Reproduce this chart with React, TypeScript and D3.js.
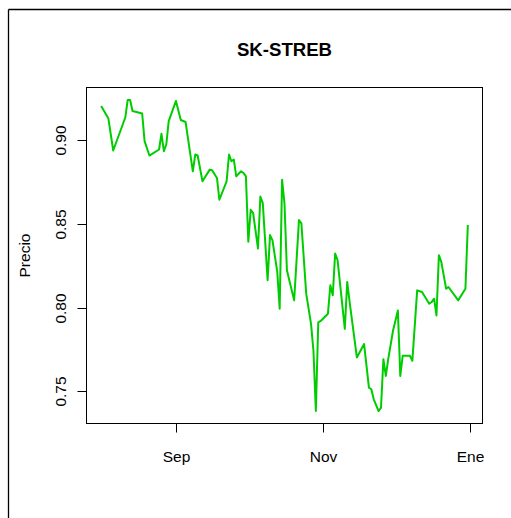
import React from "react";
import * as d3 from "d3";

const title = "SK-STREB";
const yTitle = "Precio";

const dates: string[] = [
  "2008-08-01","2008-08-04","2008-08-06","2008-08-11","2008-08-12","2008-08-13","2008-08-14","2008-08-18",
  "2008-08-19","2008-08-21","2008-08-25","2008-08-26","2008-08-27","2008-08-28","2008-08-29",
  "2008-09-01","2008-09-03","2008-09-05","2008-09-08","2008-09-09","2008-09-10","2008-09-12","2008-09-15",
  "2008-09-16","2008-09-18","2008-09-19","2008-09-22","2008-09-23","2008-09-24","2008-09-25","2008-09-26",
  "2008-09-28","2008-09-29","2008-09-30",
  "2008-10-01","2008-10-02","2008-10-03","2008-10-05","2008-10-06","2008-10-07","2008-10-09","2008-10-10",
  "2008-10-11","2008-10-13","2008-10-14","2008-10-15","2008-10-16","2008-10-17","2008-10-20","2008-10-22",
  "2008-10-23","2008-10-25","2008-10-27","2008-10-28","2008-10-29","2008-10-30","2008-10-31",
  "2008-11-03","2008-11-04","2008-11-05","2008-11-06","2008-11-07","2008-11-10","2008-11-11","2008-11-12",
  "2008-11-15","2008-11-18","2008-11-19","2008-11-20","2008-11-21","2008-11-22","2008-11-24","2008-11-25",
  "2008-11-26","2008-11-27","2008-11-28","2008-11-30",
  "2008-12-02","2008-12-03","2008-12-04","2008-12-07","2008-12-08","2008-12-10","2008-12-12","2008-12-15",
  "2008-12-16","2008-12-17","2008-12-18","2008-12-19","2008-12-20","2008-12-22","2008-12-23","2008-12-27",
  "2008-12-30","2008-12-31",
];

const prices: number[] = [
  0.9204,0.9129,0.8938,0.9135,0.9240,0.9240,0.9174,0.9159,
  0.8994,0.8908,0.8944,0.9038,0.8934,0.8974,0.9114,
  0.9234,0.9120,0.9108,0.8814,0.8914,0.8908,0.8754,0.8824,
  0.8820,0.8774,0.8644,0.8754,0.8914,0.8874,0.8884,0.8784,
  0.8814,0.8804,0.8784,
  0.8393,0.8584,0.8564,0.8353,0.8663,0.8624,0.8163,0.8433,
  0.8403,0.8213,0.7993,0.8764,0.8620,0.8223,0.8043,0.8523,
  0.8503,0.8083,0.7903,0.7742,0.7382,0.7912,0.7920,
  0.7963,0.8133,0.8073,0.8323,0.8283,0.7873,0.8153,0.8033,
  0.7702,0.7782,0.7652,0.7522,0.7512,0.7452,0.7382,0.7402,
  0.7692,0.7592,0.7692,0.7863,
  0.7983,0.7592,0.7712,0.7712,0.7682,0.8103,0.8093,0.8023,
  0.8033,0.8053,0.7953,0.8313,0.8273,0.8113,0.8123,0.8043,
  0.8113,0.8493,
];

const xTickDates: string[] = ["2008-09-01", "2008-11-01", "2009-01-01"];
const xTickLabels: string[] = ["Sep", "Nov", "Ene"];
const yTicks: number[] = [0.75, 0.8, 0.85, 0.9];

const W = 511;
const H = 518;
const M = { left: 86.5, right: 482.5, top: 87.5, bottom: 423.5 };
const FONT = "'Liberation Sans', Arial, Helvetica, sans-serif";
const FS = 15.5;

export default function App() {
  const parse = d3.utcParse("%Y-%m-%d");
  const data = dates.map((d, i) => ({ date: parse(d) as Date, value: prices[i] }));

  const [x0, x1] = d3.extent(data, (d) => d.date.getTime()) as [number, number];
  const xPad = (x1 - x0) * 0.04;
  const x = d3.scaleUtc().domain([new Date(x0 - xPad), new Date(x1 + xPad)]).range([M.left, M.right]);

  const [y0, y1] = d3.extent(data, (d) => d.value) as [number, number];
  const yPad = (y1 - y0) * 0.04;
  const y = d3.scaleLinear().domain([y0 - yPad, y1 + yPad]).range([M.bottom, M.top]);

  const line = d3
    .line<{ date: Date; value: number }>()
    .x((d) => x(d.date))
    .y((d) => y(d.value));

  const axisColor = "#000";

  return (
    <svg
      width={W}
      height={H}
      style={{ position: "absolute", left: 0, top: 0, display: "block", background: "#fff" }}
    >
      {/* outer frame */}
      <line x1={8.5} y1={9.5} x2={W} y2={9.5} stroke="#000" strokeWidth={1.3} />
      <line x1={8.5} y1={9.5} x2={8.5} y2={H} stroke="#000" strokeWidth={1.3} />

      <text
        x={(M.left + M.right) / 2}
        y={56}
        textAnchor="middle"
        fontFamily={FONT}
        fontWeight="bold"
        fontSize={FS * 1.2}
        fill="#000"
      >
        {title}
      </text>

      <path d={line(data) || ""} fill="none" stroke="#00CD00" strokeWidth={2} strokeLinejoin="round" />

      {/* plot box */}
      <rect
        x={M.left}
        y={M.top}
        width={M.right - M.left}
        height={M.bottom - M.top}
        fill="none"
        stroke={axisColor}
        strokeWidth={1}
      />

      {/* x axis ticks */}
      {xTickDates.map((d, i) => {
        const xx = Math.round(x(parse(d) as Date)) + 0.5;
        return (
          <g key={d}>
            <line x1={xx} x2={xx} y1={M.bottom} y2={M.bottom + 9} stroke={axisColor} />
            <text
              x={xx}
              y={461.5}
              textAnchor="middle"
              fontFamily={FONT}
              fontSize={FS}
              fill="#000"
            >
              {xTickLabels[i]}
            </text>
          </g>
        );
      })}

      {/* y axis ticks */}
      {yTicks.map((t) => {
        const yy = Math.round(y(t)) + 0.5;
        return (
          <g key={t}>
            <line x1={M.left - 9} x2={M.left} y1={yy} y2={yy} stroke={axisColor} />
            <text
              transform={`translate(${65.5},${yy}) rotate(-90)`}
              textAnchor="middle"
              fontFamily={FONT}
              fontSize={FS}
              fill="#000"
            >
              {t.toFixed(2)}
            </text>
          </g>
        );
      })}

      <text
        transform={`translate(${29.5},${(M.top + M.bottom) / 2}) rotate(-90)`}
        textAnchor="middle"
        fontFamily={FONT}
        fontSize={FS}
        fill="#000"
      >
        {yTitle}
      </text>
    </svg>
  );
}
